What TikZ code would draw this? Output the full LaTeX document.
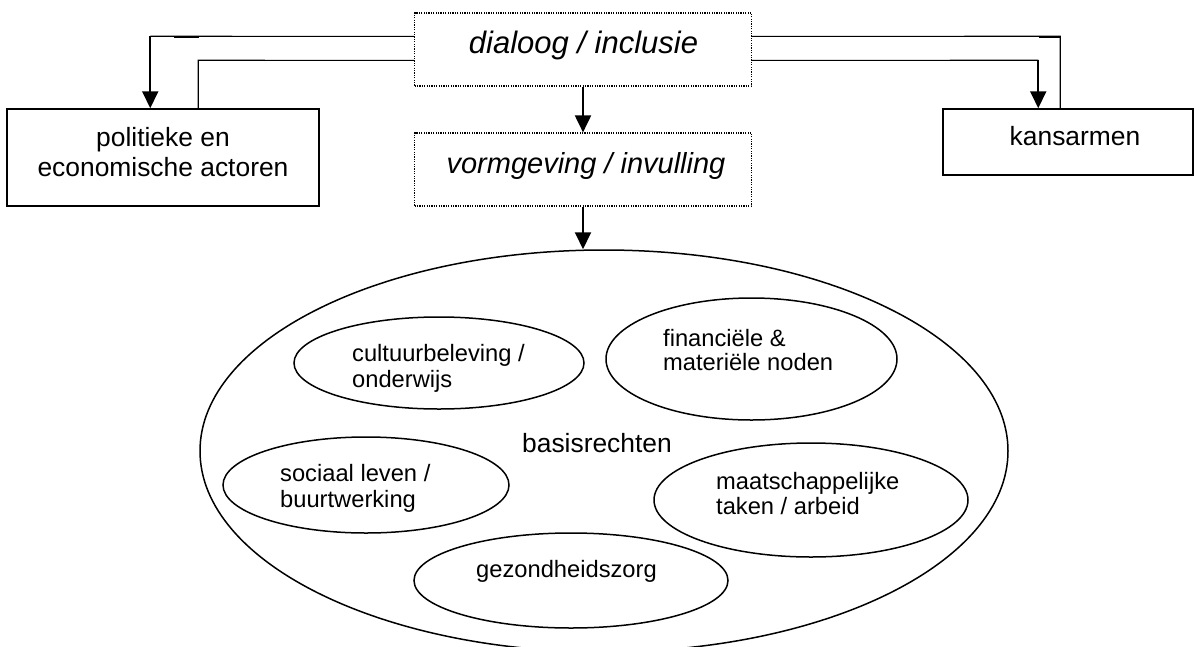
\documentclass[tikz,border=0pt]{standalone}
\usepackage{fontspec}
\setmainfont{Liberation Sans}
\usetikzlibrary{arrows.meta,shapes.geometric,calc}
\begin{document}
\begin{tikzpicture}[x=1pt,y=-1pt,
  dotbox/.style={draw, line width=1.2pt, dash pattern=on 1.2pt off 1.2pt, rectangle, inner sep=0pt},
  solidbox/.style={draw, line width=1.5pt, rectangle, inner sep=0pt},
  ell/.style={draw, line width=1.5pt, ellipse, inner sep=0pt},
  conn/.style={draw, line width=1.1pt},
  arr/.style={draw, line width=2pt, -{Triangle[length=17pt,width=16pt]}},
  boxtxt/.style={inner sep=0pt, anchor=base, font=\fontsize{26.4}{31}\selectfont},
  elltxt/.style={inner sep=0pt, anchor=base west, font=\fontsize{23.7}{28}\selectfont},
  headtxt/.style={inner sep=0pt, anchor=base, font=\itshape\fontsize{31}{36}\selectfont}
]
\useasboundingbox (0,0) rectangle (1200,646);
\clip (0,0) rectangle (1200,646);

% boxes
\node[dotbox, minimum width=337, minimum height=73] (dia) at (583,49.5) {};
\node[dotbox, minimum width=337, minimum height=73] (vorm) at (583,169.5) {};
\node[solidbox, minimum width=312, minimum height=97] (pol) at (163,157.5) {};
\node[solidbox, minimum width=250, minimum height=66] (kans) at (1068,142) {};

% texts in boxes
\node[headtxt] (diat) at (583.5,53) {dialoog / inclusie};
\node[headtxt, font=\itshape\fontsize{29}{34}\selectfont] (vormt) at (586,173) {vormgeving / invulling};
\node[boxtxt] (pol1) at (163,146) {politieke en};
\node[boxtxt] (pol2) at (163,176) {economische actoren};
\node[boxtxt] (kanst) at (1075,145) {kansarmen};

% big ellipse and inner ellipses
\node[ell, minimum width=808, minimum height=402] (basis) at (604,451) {};
\node[ell, minimum width=290, minimum height=92] (cult) at (439,363) {};
\node[ell, minimum width=291, minimum height=122] (fin) at (751.5,359) {};
\node[ell, minimum width=286, minimum height=96] (soc) at (366,485) {};
\node[ell, minimum width=314, minimum height=114] (maat) at (811,500) {};
\node[ell, minimum width=314, minimum height=95] (gez) at (571,580.5) {};

% texts in ellipses
\node[boxtxt] (basist) at (597,452) {basisrechten};
\node[elltxt] (cult1) at (352,361) {cultuurbeleving /};
\node[elltxt] (cult2) at (352,387) {onderwijs};
\node[elltxt] (fin1) at (663,346) {financiële \&};
\node[elltxt] (fin2) at (663,370) {materiële noden};
\node[elltxt] (soc1) at (280,481) {sociaal leven /};
\node[elltxt] (soc2) at (280,507) {buurtwerking};
\node[elltxt] (maat1) at (716,489) {maatschappelijke};
\node[elltxt] (maat2) at (716,514) {taken / arbeid};
\node[elltxt, anchor=base] (gezt) at (566.5,577) {gezondheidszorg};

% corner points of the side connectors
\coordinate (lc1) at ($(pol.north west)+(144,-72)$);
\coordinate (lc2) at ($(pol.north west)+(192,-48)$);
\coordinate (rc1) at ($(kans.north west)+(96,-48)$);
\coordinate (rc2) at ($(kans.north west)+(118,-72)$);

% connectors
\draw[conn] ($(dia.north west)+(0,24)$) -- (lc1);
\draw[arr] (lc1) -- ($(pol.north west)+(144,0)$);
\draw[conn] ($(pol.north west)+(192,0)$) -- (lc2) -- ($(dia.north west)+(0,48)$);
\draw[conn] ($(dia.north east)+(0,48)$) -- (rc1);
\draw[arr] (rc1) -- ($(kans.north west)+(96,0)$);
\draw[conn] ($(kans.north west)+(118,0)$) -- (rc2) -- ($(dia.north east)+(0,24)$);
\draw[line width=2.2pt] (174,37) -- (199,37);
\draw[line width=2.2pt] (1039,37) -- (1061,37);
\draw[arr] (dia.south) -- (vorm.north);
\draw[arr] (vorm.south) -- (vorm.south |- basis.north);
\end{tikzpicture}
\end{document}
